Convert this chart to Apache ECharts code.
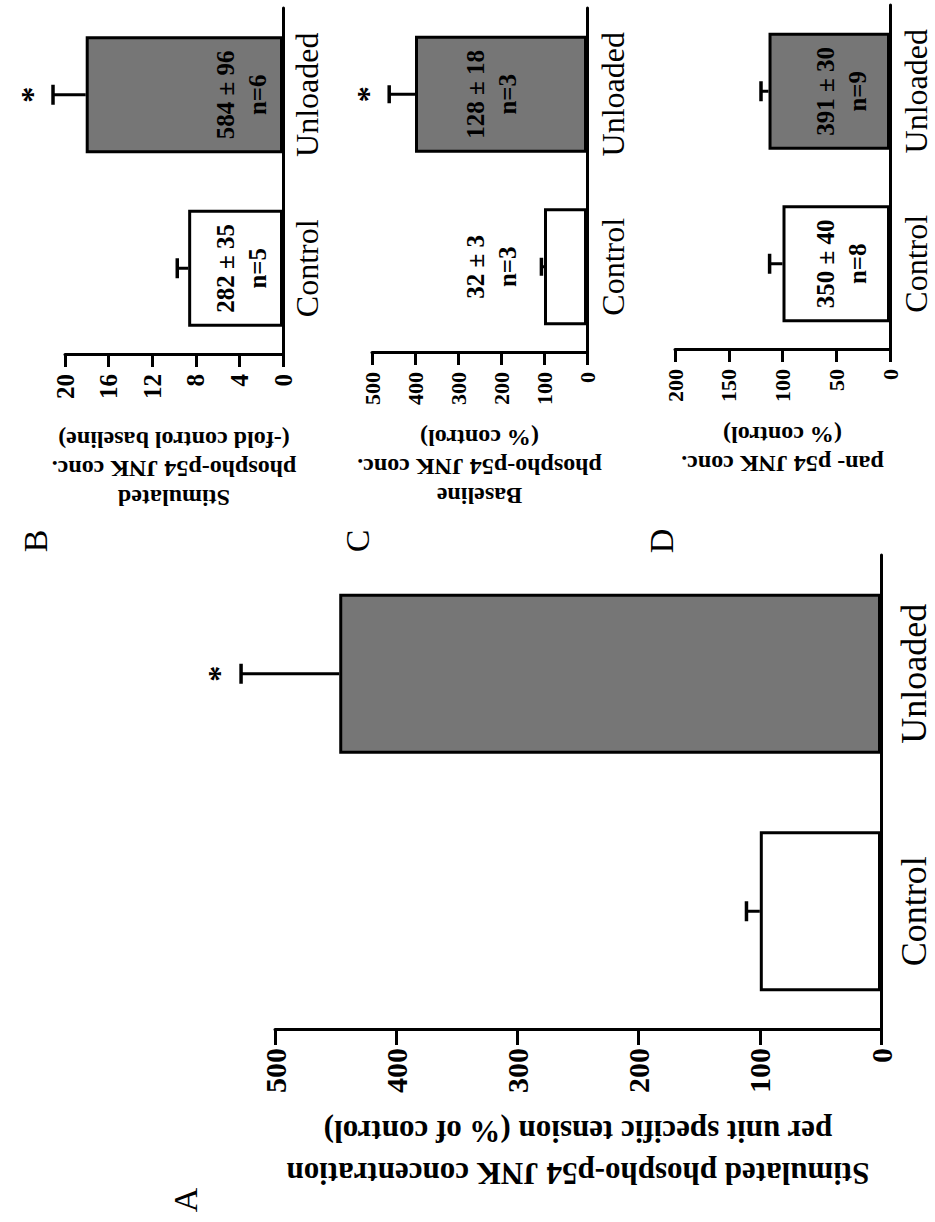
<!DOCTYPE html>
<html><head><meta charset="utf-8">
<script src="https://cdn.jsdelivr.net/npm/echarts@6/dist/echarts.min.js"></script>
<style>
html,body{margin:0;padding:0;width:935px;height:1222px;overflow:hidden;background:#fff}
#chart{position:absolute;left:0;top:0;width:1222px;height:935px;transform-origin:0 0;transform:translate(0,1222px) rotate(-90deg);}
</style></head><body><div id="chart"></div>
<script>
// ---- data ----
const categories = ['Control', 'Unloaded'];

const aValues = [100, 447];
const aSem = [11, 81];
const aSig = ['', '*'];
const aTicks = { min: 0, max: 500, interval: 100 };
const aTitle = 'Stimulated phospho-p54 JNK concentration\nper unit specific tension (% of control)';

const bValues = [8.7, 18.1];
const bSem = [1.0, 3.0];
const bSig = ['', '*'];
const bNotes = [['282 ± 35', 'n=5'], ['584 ± 96', 'n=6']];
const bTicks = { min: 0, max: 20, interval: 4 };
const bTitle = 'Stimulated\nphospho-p54 JNK conc.\n(-fold control baseline)';

const cValues = [100, 400];
const cSem = [6, 60];
const cSig = ['', '*'];
const cNotes = [['32 ± 3', 'n=3'], ['128 ± 18', 'n=3']];
const cTicks = { min: 0, max: 500, interval: 100 };
const cTitle = 'Baseline\nphospho-p54 JNK conc.\n(% control)';

const dValues = [100, 113];
const dSem = [12, 7];
const dSig = ['', ''];
const dNotes = [['350 ± 40', 'n=8'], ['391 ± 30', 'n=9']];
const dTicks = { min: 0, max: 200, interval: 50 };
const dTitle = 'pan- p54 JNK conc.\n(% control)';

const panelLetters = ['A', 'B', 'C', 'D'];

// ---- layout / style ----
const FONT = "'Liberation Serif', 'DejaVu Serif', serif";
const GREY = '#767676';

const panels = [
  { values: aValues, sem: aSem, sig: aSig, notes: null, ticks: aTicks, title: aTitle,
    grid: { left: 192, top: 275, width: 475, height: 606 },
    tickFont: 30, tickLen: 15, tickMargin: 18, catFont: 36, catMargin: 15,
    nameFont: 31, nameLH: 42, nameGap: 80, barWidth: 160, cap: 10, starGap: 22, noteAt: 0 },
  { values: bValues, sem: bSem, sig: bSig, notes: bNotes, ticks: bTicks, title: bTitle,
    grid: { left: 867, top: 65, width: 347, height: 218 },
    tickFont: 25, tickLen: 12, tickMargin: 19, catFont: 32, catMargin: 8,
    nameFont: 24, nameLH: 29, nameGap: 70, barWidth: 117, cap: 10, starGap: 21, noteAt: 3.85 },
  { values: cValues, sem: cSem, sig: cSig, notes: cNotes, ticks: cTicks, title: cTitle,
    grid: { left: 869, top: 372, width: 345, height: 215 },
    tickFont: 22, tickLen: 12, tickMargin: 19, catFont: 32, catMargin: 10,
    nameFont: 24, nameLH: 29, nameGap: 70, barWidth: 117, cap: 9, starGap: 21, noteAt: 221 },
  { values: dValues, sem: dSem, sig: dSig, notes: dNotes, ticks: dTicks, title: dTitle,
    grid: { left: 872, top: 675, width: 345, height: 215 },
    tickFont: 22, tickLen: 12, tickMargin: 19, catFont: 32, catMargin: 10,
    nameFont: 24, nameLH: 29, nameGap: 70, barWidth: 117, cap: 10, starGap: 21, noteAt: 45 }
];

const grids = [], xAxes = [], yAxes = [], series = [];

panels.forEach((p, k) => {
  grids.push(Object.assign({ containLabel: false }, p.grid));
  xAxes.push({
    type: 'category', gridIndex: k, data: categories,
    axisLine: { show: true, lineStyle: { color: '#000', width: 3 } },
    axisTick: { show: false },
    axisLabel: { color: '#000', fontFamily: FONT, fontSize: p.catFont, lineHeight: p.catFont, margin: p.catMargin }
  });
  yAxes.push({
    type: 'value', gridIndex: k, min: p.ticks.min, max: p.ticks.max, interval: p.ticks.interval,
    name: p.title, nameLocation: 'middle', nameRotate: 90, nameGap: p.nameGap,
    nameTextStyle: { color: '#000', fontFamily: FONT, fontSize: p.nameFont, fontWeight: 'bold', lineHeight: p.nameLH, align: 'center' },
    axisLine: { show: true, lineStyle: { color: '#000', width: 3 } },
    axisTick: { show: true, length: p.tickLen, lineStyle: { color: '#000', width: 3 } },
    splitLine: { show: false },
    axisLabel: { color: '#000', fontFamily: FONT, fontSize: p.tickFont, fontWeight: 'bold', margin: p.tickMargin }
  });
  series.push({
    type: 'bar', xAxisIndex: k, yAxisIndex: k, barWidth: p.barWidth, silent: true,
    data: p.values.map((v, i) => ({ value: v, itemStyle: { color: i === 0 ? '#fff' : GREY, borderColor: '#000', borderWidth: 3 } }))
  });
  const sig = p.sig;
  series.push({
    type: 'custom', xAxisIndex: k, yAxisIndex: k, silent: true, z: 5,
    data: p.values.map((v, i) => [i, v, v + p.sem[i]]),
    renderItem: function (params, api) {
      const i = api.value(0), v = api.value(1), e = api.value(2);
      const p0 = api.coord([i, v]), p1 = api.coord([i, e]);
      const ch = [
        { type: 'line', shape: { x1: p0[0], y1: p0[1], x2: p1[0], y2: p1[1] }, style: { stroke: '#000', lineWidth: 3 } },
        { type: 'line', shape: { x1: p1[0] - p.cap, y1: p1[1], x2: p1[0] + p.cap, y2: p1[1] }, style: { stroke: '#000', lineWidth: 3.5 } }
      ];
      const s = sig[params.dataIndex];
      if (s) ch.push({ type: 'text', style: { text: s, x: p1[0], y: p1[1] - p.starGap, align: 'center', verticalAlign: 'middle', textAlign: 'center', textVerticalAlign: 'middle', font: 'bold 32px ' + FONT, fill: '#000' } });
      return { type: 'group', children: ch };
    }
  });
  if (p.notes) {
    const notes = p.notes;
    series.push({
      type: 'custom', xAxisIndex: k, yAxisIndex: k, silent: true, z: 6,
      data: notes.map((n, i) => [i, p.noteAt]),
      renderItem: function (params, api) {
        const c = api.coord([api.value(0), api.value(1)]);
        return { type: 'text', style: { text: notes[params.dataIndex].join('\n'), x: c[0], y: c[1], align: 'center', verticalAlign: 'middle', textAlign: 'center', textVerticalAlign: 'middle', font: 'bold 25px ' + FONT, lineHeight: 32, fill: '#000' } };
      }
    });
  }
});

const letterPos = [[22, 185], [681, 35], [681, 357], [681, 661]];
const graphic = panelLetters.map((t, i) => ({
  type: 'text', x: letterPos[i][0], y: letterPos[i][1],
  style: { text: t, font: '34px ' + FONT, fill: '#000', align: 'center', verticalAlign: 'middle', textAlign: 'center', textVerticalAlign: 'middle' }
}));

const chart = echarts.init(document.getElementById('chart'), null, { renderer: 'svg', width: 1222, height: 935 });
chart.setOption({
  animation: false,
  backgroundColor: '#fff',
  grid: grids, xAxis: xAxes, yAxis: yAxes, series: series, graphic: graphic
});
</script></body></html>
